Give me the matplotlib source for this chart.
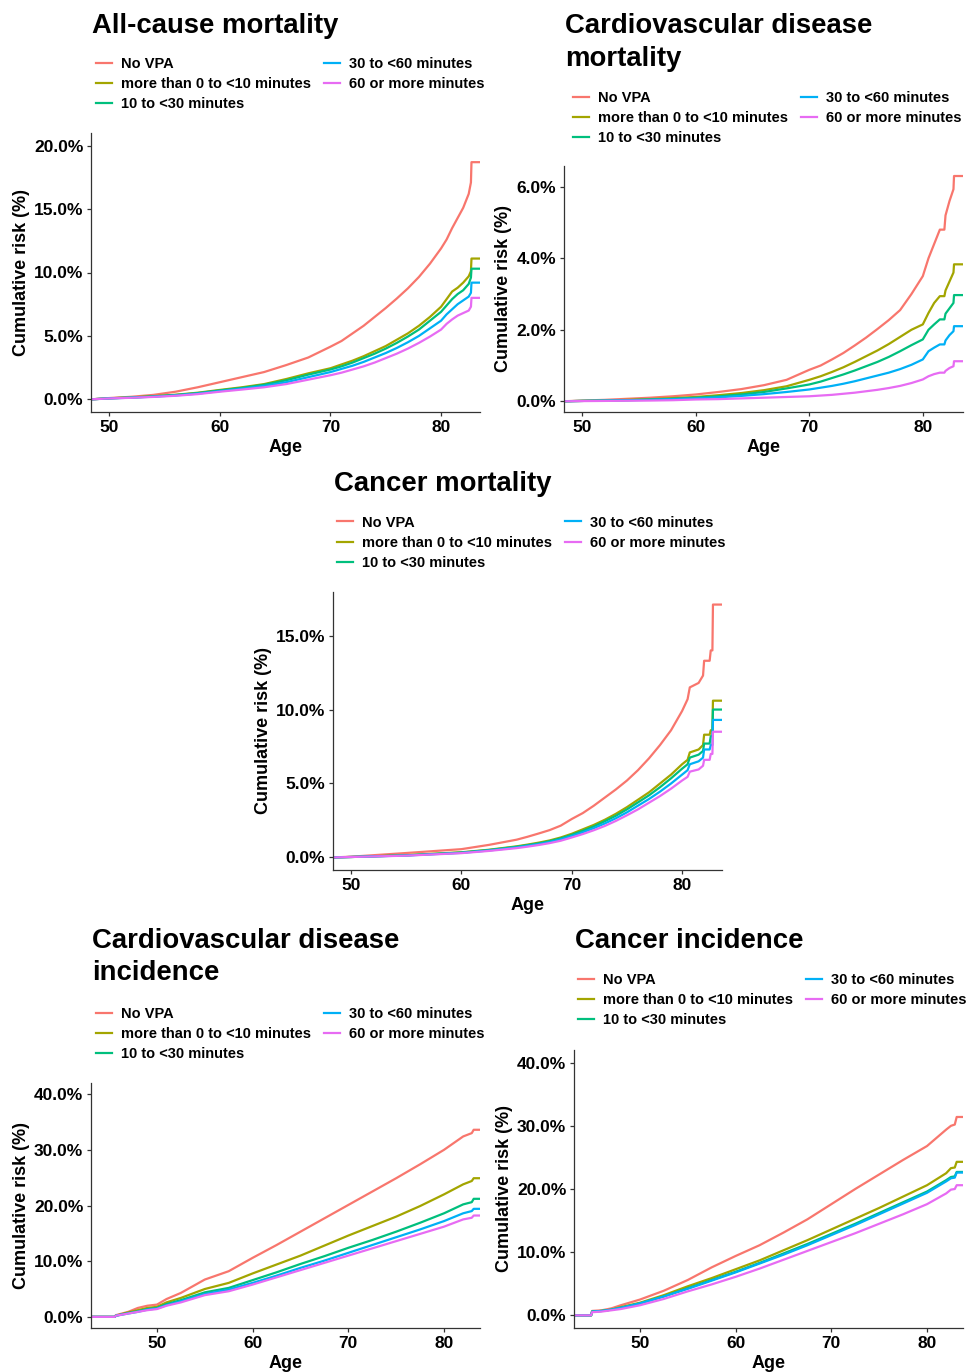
import matplotlib
matplotlib.use("Agg")
import matplotlib.pyplot as plt
from matplotlib.lines import Line2D
from matplotlib.ticker import FuncFormatter

plt.rcParams['font.family'] = ['Liberation Sans', 'DejaVu Sans']
plt.rcParams['font.weight'] = 'bold'

W, H = 970, 1372

groups = ["No VPA", "more than 0 to <10 minutes", "10 to <30 minutes",
          "30 to <60 minutes", "60 or more minutes"]
colors = ["#F8766D", "#A3A500", "#00BF7D", "#00B0F6", "#E76BF3"]

# All-cause mortality
ages_all = [48.4, 50, 52, 54, 56, 58, 60, 62, 64, 66, 68, 70, 71, 72, 73, 74, 75, 76, 77, 78, 79, 80,
            80.5, 81, 81.5, 82, 82.5, 82.7, 82.75, 83.6]
all_cause = [
    [0, .1, .2, .35, .6, .95, 1.35, 1.75, 2.15, 2.7, 3.3, 4.15, 4.6, 5.2, 5.8, 6.5, 7.2, 7.95, 8.75, 9.65,
     10.7, 11.9, 12.6, 13.5, 14.3, 15.1, 16.2, 17.1, 18.7, 18.7],
    [0, .08, .15, .25, .36, .52, .74, .95, 1.2, 1.6, 2.05, 2.45, 2.75, 3.05, 3.4, 3.8, 4.2, 4.7, 5.2, 5.8,
     6.5, 7.3, 7.9, 8.5, 8.8, 9.2, 9.7, 10.1, 11.1, 11.1],
    [0, .08, .14, .23, .34, .49, .7, .9, 1.15, 1.5, 1.95, 2.35, 2.6, 2.9, 3.25, 3.6, 4.0, 4.45, 4.95, 5.5,
     6.2, 6.9, 7.4, 7.9, 8.3, 8.6, 9.1, 9.6, 10.3, 10.3],
    [0, .07, .13, .21, .31, .45, .65, .84, 1.05, 1.35, 1.75, 2.15, 2.4, 2.65, 2.95, 3.3, 3.65, 4.05, 4.5, 5.0,
     5.6, 6.2, 6.7, 7.1, 7.5, 7.8, 8.1, 8.4, 9.2, 9.2],
    [0, .07, .12, .19, .28, .41, .6, .77, .95, 1.2, 1.55, 1.9, 2.1, 2.35, 2.6, 2.9, 3.25, 3.6, 4.0, 4.45,
     4.95, 5.5, 5.95, 6.3, 6.6, 6.8, 7.0, 7.3, 8.0, 8.0],
]

# Cardiovascular disease mortality
ages_cvd_mort = [48.4, 50, 52, 54, 56, 58, 60, 62, 64, 66, 68, 70, 71, 72, 73, 74, 75, 76, 77, 78, 79, 80,
                 80.5, 81, 81.5, 81.9, 82.0, 82.35, 82.7, 82.75, 83.5]
cvd_mort = [
    [0, .02, .04, .07, .1, .14, .19, .26, .34, .45, .6, .88, 1.0, 1.17, 1.35, 1.56, 1.78, 2.02, 2.27, 2.55,
     3.0, 3.5, 4.0, 4.4, 4.8, 4.8, 5.2, 5.6, 5.93, 6.3, 6.3],
    [0, .01, .02, .04, .06, .09, .12, .17, .23, .31, .42, .6, .7, .82, .95, 1.1, 1.26, 1.42, 1.6, 1.8,
     2.0, 2.15, 2.47, 2.75, 2.94, 2.94, 3.1, 3.35, 3.6, 3.83, 3.83],
    [0, .01, .02, .03, .05, .07, .1, .14, .19, .26, .36, .47, .55, .65, .75, .86, .98, 1.1, 1.24, 1.4,
     1.57, 1.73, 2.0, 2.15, 2.29, 2.29, 2.45, 2.6, 2.75, 2.97, 2.97],
    [0, .01, .02, .03, .04, .06, .08, .11, .15, .2, .26, .33, .38, .43, .49, .56, .64, .72, .8, .9,
     1.02, 1.17, 1.4, 1.5, 1.59, 1.59, 1.7, 1.85, 1.96, 2.1, 2.1],
    [0, .005, .01, .015, .02, .03, .05, .06, .08, .1, .12, .14, .16, .18, .21, .24, .28, .32, .37, .43,
     .51, .61, .7, .76, .8, .8, .85, .93, .98, 1.12, 1.12],
]

# Cancer mortality
ages_cancer_mort = [48.4, 50, 55, 60, 62.5, 65, 66, 67, 68, 69, 70, 71, 72, 73, 74, 75, 76, 77, 78, 79, 80,
                    80.5, 80.7, 81.5, 81.9, 82.0, 82.5, 82.6, 82.75, 82.8, 83.6]
cancer_mort = [
    [0, .05, .3, .56, .85, 1.2, 1.4, 1.62, 1.85, 2.15, 2.6, 3.0, 3.5, 4.05, 4.6, 5.2, 5.9, 6.7, 7.6, 8.6,
     9.9, 10.7, 11.5, 11.8, 12.3, 13.3, 13.3, 14.0, 14.0, 17.1, 17.1],
    [0, .03, .15, .35, .52, .75, .87, 1.0, 1.15, 1.35, 1.6, 1.9, 2.2, 2.55, 2.95, 3.4, 3.9, 4.4, 5.0, 5.6,
     6.3, 6.6, 7.1, 7.3, 7.6, 8.3, 8.3, 8.6, 8.6, 10.6, 10.6],
    [0, .03, .14, .33, .5, .72, .83, .95, 1.1, 1.29, 1.53, 1.8, 2.1, 2.45, 2.82, 3.25, 3.72, 4.2, 4.75, 5.35,
     6.0, 6.3, 6.75, 6.95, 7.2, 7.7, 7.7, 8.2, 8.2, 10.0, 10.0],
    [0, .03, .13, .31, .47, .68, .79, .9, 1.04, 1.22, 1.45, 1.7, 1.98, 2.3, 2.65, 3.05, 3.5, 3.95, 4.45, 5.0,
     5.6, 5.9, 6.3, 6.5, 6.75, 7.3, 7.3, 7.6, 7.6, 9.3, 9.3],
    [0, .03, .12, .29, .44, .63, .73, .84, .97, 1.13, 1.35, 1.58, 1.84, 2.13, 2.47, 2.85, 3.25, 3.7, 4.15, 4.65,
     5.2, 5.45, 5.8, 5.95, 6.2, 6.6, 6.6, 7.0, 7.0, 8.5, 8.5],
]

# Cardiovascular disease incidence
ages_cvd_inc = [43.1, 45.6, 45.7, 47, 48, 49, 50, 51, 52.5, 55, 57.5, 60, 62.5, 65, 67.5, 70, 72.5, 75,
                77.5, 80, 82, 82.9, 83.1, 83.8]
cvd_inc = [
    [0, 0, 0.3, 0.9, 1.6, 2.0, 2.2, 3.2, 4.3, 6.7, 8.2, 10.6, 12.9, 15.3, 17.7, 20.1, 22.5, 24.9, 27.4, 30.0, 32.4, 33.0, 33.6, 33.6],
    [0, 0, 0.2, 0.8, 1.2, 1.6, 1.8, 2.6, 3.4, 5.0, 6.1, 7.8, 9.4, 11.0, 12.8, 14.6, 16.3, 18.0, 19.9, 22.0, 23.8, 24.4, 24.9, 24.9],
    [0, 0, 0.2, 0.7, 1.0, 1.4, 1.6, 2.3, 3.0, 4.4, 5.2, 6.6, 8.0, 9.5, 10.9, 12.4, 13.8, 15.3, 16.9, 18.6, 20.2, 20.6, 21.2, 21.2],
    [0, 0, 0.2, 0.6, 0.9, 1.3, 1.5, 2.1, 2.8, 4.1, 4.9, 6.1, 7.4, 8.8, 10.1, 11.5, 12.9, 14.3, 15.7, 17.2, 18.6, 19.0, 19.4, 19.4],
    [0, 0, 0.2, 0.6, 0.9, 1.2, 1.4, 2.0, 2.6, 3.9, 4.6, 5.8, 7.1, 8.4, 9.7, 11.0, 12.3, 13.6, 14.9, 16.2, 17.5, 17.8, 18.2, 18.2],
]

# Cancer incidence
ages_cancer_inc = [43.1, 44.9, 45.0, 46, 47, 48, 50, 52.5, 55, 57.5, 60, 62.5, 65, 67.5, 70, 72.5, 75,
                   77.5, 80, 82, 82.5, 82.9, 83.1, 83.8]
cancer_inc = [
    [0, 0, 0.7, 0.8, 1.1, 1.6, 2.5, 3.9, 5.6, 7.6, 9.4, 11.1, 13.1, 15.2, 17.6, 20.0, 22.3, 24.6, 26.8, 29.4, 30.0, 30.2, 31.4, 31.4],
    [0, 0, 0.6, 0.7, 0.9, 1.3, 2.0, 3.2, 4.6, 5.9, 7.3, 8.7, 10.3, 11.9, 13.6, 15.3, 17.0, 18.8, 20.6, 22.5, 23.3, 23.4, 24.3, 24.3],
    [0, 0, 0.6, 0.7, 0.9, 1.2, 1.9, 3.0, 4.3, 5.6, 6.9, 8.3, 9.8, 11.3, 12.9, 14.5, 16.2, 17.9, 19.6, 21.4, 21.9, 22.0, 22.7, 22.7],
    [0, 0, 0.6, 0.7, 0.9, 1.2, 1.9, 3.0, 4.2, 5.5, 6.8, 8.2, 9.6, 11.1, 12.7, 14.3, 16.0, 17.7, 19.4, 21.2, 21.7, 21.8, 22.6, 22.6],
    [0, 0, 0.5, 0.6, 0.8, 1.0, 1.6, 2.6, 3.8, 4.9, 6.1, 7.4, 8.8, 10.2, 11.6, 13.0, 14.5, 16.0, 17.6, 19.3, 19.9, 20.0, 20.6, 20.6],
]


def fx(x):
    return x / W


def fy(y):
    return 1 - y / H


# panel layout in pixels: axes box (l, t, r, b), title baseline, legend origin
panels = [
    dict(title="All-cause mortality", ages=ages_all, vals=all_cause,
         box=(91, 133, 480, 412), xlim=(48.35, 83.52), ylim=(-1.0, 21.0),
         yticks=[0, 5, 10, 15, 20], title_y=33, leg=(96, 68)),
    dict(title="Cardiovascular disease\nmortality", ages=ages_cvd_mort, vals=cvd_mort,
         box=(564, 166, 963, 412), xlim=(48.39, 83.54), ylim=(-0.3, 6.58),
         yticks=[0, 2, 4, 6], title_y=33, leg=(573, 102)),
    dict(title="Cancer mortality", ages=ages_cancer_mort, vals=cancer_mort,
         box=(333, 592, 722, 870), xlim=(48.35, 83.62), ylim=(-0.85, 17.95),
         yticks=[0, 5, 10, 15], title_y=491, leg=(337, 527)),
    dict(title="Cardiovascular disease\nincidence", ages=ages_cvd_inc, vals=cvd_inc,
         box=(91, 1083, 480, 1328), xlim=(43.11, 83.76), ylim=(-2.0, 42.0),
         yticks=[0, 10, 20, 30, 40], title_y=948, leg=(96, 1018)),
    dict(title="Cancer incidence", ages=ages_cancer_inc, vals=cancer_inc,
         box=(574, 1050, 963, 1328), xlim=(43.11, 83.76), ylim=(-2.0, 42.0),
         yticks=[0, 10, 20, 30, 40], title_y=948, leg=(578, 984)),
]

fig = plt.figure(figsize=(W / 100, H / 100), dpi=100)

for p in panels:
    l, t, r, b = p["box"]
    ax = fig.add_axes([fx(l), fy(b), fx(r - l), (b - t) / H])
    for vals, c in zip(p["vals"], colors):
        ax.plot(p["ages"], vals, color=c, lw=1.6)
    ax.set_xlim(*p["xlim"])
    ax.set_ylim(*p["ylim"])
    ax.set_xticks([50, 60, 70, 80])
    ax.set_yticks(p["yticks"])
    ax.yaxis.set_major_formatter(FuncFormatter(lambda v, _: f"{v:.1f}%"))
    for s in ["top", "right"]:
        ax.spines[s].set_visible(False)
    for s in ["left", "bottom"]:
        ax.spines[s].set_color("#333333")
        ax.spines[s].set_linewidth(0.9)
    ax.tick_params(length=3, width=0.9, color="#333333", labelsize=12.5,
                   labelcolor="black", pad=2.5)
    for lab in ax.get_xticklabels() + ax.get_yticklabels():
        lab.set_fontweight("bold")
    ax.set_xlabel("Age", fontsize=13, fontweight="bold", labelpad=3)
    ax.set_ylabel("Cumulative risk (%)", fontsize=13, fontweight="bold", labelpad=3)

    # title, one line at a time
    for k, line in enumerate(p["title"].split("\n")):
        fig.text(fx(l + 1), fy(p["title_y"] + k * 32.5), line, fontsize=19.8,
                 fontweight="bold", va="baseline", ha="left")

    # legend (two columns, filled column-wise like ggplot)
    kx, ky = p["leg"]
    for i, (g, c) in enumerate(zip(groups, colors)):
        col, row = (0, i) if i < 3 else (1, i - 3)
        x0 = kx + col * 228
        y0 = ky + row * 20
        fig.add_artist(Line2D([fx(x0), fx(x0 + 16)], [fy(y0 - 5.5)] * 2,
                              transform=fig.transFigure, color=c, lw=1.6))
        fig.text(fx(x0 + 25), fy(y0), g, fontsize=10.5, fontweight="bold",
                 va="baseline", ha="left")

fig.savefig("out.png", dpi=100, facecolor="white")
